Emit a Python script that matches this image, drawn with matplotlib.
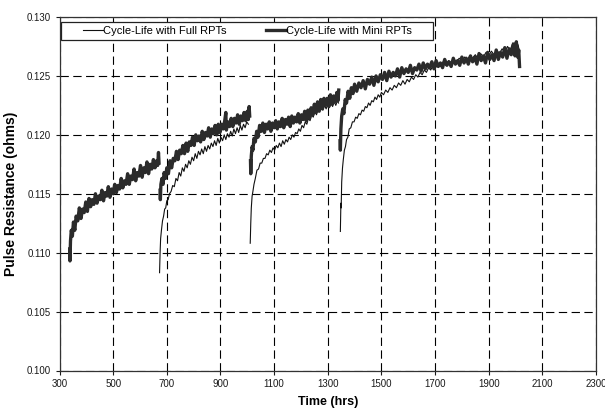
import numpy as np
import matplotlib
matplotlib.use("Agg")
import matplotlib.pyplot as plt
from matplotlib.patches import Rectangle

plt.rcParams["font.family"] = ["Liberation Sans", "DejaVu Sans"]
INK = "#1a1a1a"
LINE = "#2b2b2b"

# Cycle-Life with Mini RPTs (thick), four segments between RPTs
mini_t1 = [338, 339, 341, 344, 348, 352, 357, 362, 368, 374, 380, 386, 392, 398, 404,
           410, 416, 422, 428, 434, 440, 446, 452, 458, 464, 470, 476, 482, 488, 494,
           500, 506, 512, 518, 524, 530, 536, 542, 548, 554, 560, 566, 572, 578, 584,
           590, 596, 602, 608, 614, 620, 626, 632, 638, 644, 650, 656, 662, 666, 669, 671]
mini_r1 = [0.1103, 0.1093, 0.1110, 0.1119, 0.1114, 0.1126, 0.1119, 0.1131, 0.1127, 0.1138,
           0.1129, 0.1137, 0.1134, 0.1143, 0.1135, 0.1146, 0.1139, 0.1145, 0.1141, 0.1150,
           0.1142, 0.1148, 0.1145, 0.1153, 0.1144, 0.1151, 0.1148, 0.1156, 0.1147, 0.1154,
           0.1150, 0.1158, 0.1151, 0.1157, 0.1154, 0.1163, 0.1155, 0.1161, 0.1158, 0.1167,
           0.1158, 0.1165, 0.1162, 0.1171, 0.1161, 0.1168, 0.1165, 0.1174, 0.1164, 0.1172,
           0.1168, 0.1177, 0.1167, 0.1175, 0.1171, 0.1179, 0.1172, 0.1178, 0.1174, 0.1185,
           0.1176]

mini_t2 = [675, 676, 678, 682, 686, 690, 695, 700, 706, 712, 718, 724, 730, 736, 742,
           748, 754, 760, 766, 772, 778, 784, 790, 796, 802, 808, 814, 820, 826, 832,
           838, 844, 850, 856, 862, 868, 874, 880, 886, 892, 898, 904, 910, 916, 920,
           922, 928, 934, 940, 946, 952, 958, 964, 970, 976, 982, 988, 994, 1000, 1004,
           1007, 1009]
mini_r2 = [0.1153, 0.1145, 0.1158, 0.1163, 0.1158, 0.1168, 0.1163, 0.1172, 0.1167, 0.1178,
           0.1172, 0.1180, 0.1178, 0.1186, 0.1179, 0.1187, 0.1184, 0.1191, 0.1184, 0.1193,
           0.1186, 0.1194, 0.1191, 0.1198, 0.1191, 0.1200, 0.1195, 0.1199, 0.1194, 0.1203,
           0.1196, 0.1202, 0.1199, 0.1206, 0.1198, 0.1205, 0.1201, 0.1208, 0.1200, 0.1209,
           0.1202, 0.1209, 0.1205, 0.1212, 0.1219, 0.1204, 0.1211, 0.1207, 0.1214, 0.1207,
           0.1214, 0.1210, 0.1217, 0.1209, 0.1216, 0.1212, 0.1219, 0.1212, 0.1220, 0.1213,
           0.1224, 0.1216]

mini_t3 = [1012, 1013, 1015, 1018, 1021, 1025, 1030, 1035, 1040, 1046, 1052, 1058, 1064,
           1070, 1076, 1082, 1088, 1094, 1100, 1106, 1112, 1118, 1124, 1130, 1136, 1142,
           1148, 1154, 1160, 1166, 1172, 1178, 1184, 1190, 1196, 1202, 1208, 1214, 1220,
           1226, 1232, 1238, 1244, 1250, 1256, 1262, 1268, 1274, 1280, 1286, 1292, 1298,
           1304, 1310, 1316, 1322, 1328, 1334, 1338, 1341]
mini_r3 = [0.1178, 0.1167, 0.1182, 0.1190, 0.1187, 0.1197, 0.1194, 0.1203, 0.1198, 0.1208,
           0.1203, 0.1210, 0.1202, 0.1209, 0.1205, 0.1211, 0.1203, 0.1210, 0.1206, 0.1212,
           0.1205, 0.1211, 0.1207, 0.1214, 0.1206, 0.1213, 0.1209, 0.1215, 0.1207, 0.1216,
           0.1210, 0.1215, 0.1211, 0.1218, 0.1210, 0.1217, 0.1213, 0.1220, 0.1212, 0.1221,
           0.1214, 0.1223, 0.1217, 0.1226, 0.1219, 0.1228, 0.1220, 0.1230, 0.1222, 0.1231,
           0.1225, 0.1231, 0.1224, 0.1234, 0.1226, 0.1233, 0.1228, 0.1236, 0.1229, 0.1238]

mini_t4 = [1346, 1347, 1349, 1352, 1356, 1360, 1365, 1370, 1376, 1382, 1388, 1394, 1400,
           1408, 1416, 1424, 1432, 1440, 1448, 1456, 1464, 1472, 1480, 1488, 1496, 1504,
           1512, 1520, 1528, 1536, 1544, 1552, 1560, 1568, 1576, 1584, 1592, 1600, 1608,
           1616, 1624, 1632, 1640, 1648, 1656, 1664, 1672, 1680, 1688, 1696, 1704, 1712,
           1720, 1728, 1736, 1744, 1752, 1760, 1768, 1776, 1784, 1792, 1800, 1808, 1816,
           1824, 1832, 1840, 1848, 1856, 1864, 1872, 1880, 1888, 1896, 1904, 1912, 1920,
           1928, 1936, 1944, 1952, 1960, 1968, 1976, 1984, 1992, 1998, 2003, 2008, 2012, 2015]
mini_r4 = [0.1195, 0.1187, 0.1205, 0.1216, 0.1222, 0.1218, 0.1230, 0.1227, 0.1237, 0.1231,
           0.1240, 0.1235, 0.1243, 0.1237, 0.1244, 0.1240, 0.1246, 0.1239, 0.1247, 0.1243,
           0.1249, 0.1242, 0.1250, 0.1245, 0.1251, 0.1247, 0.1253, 0.1246, 0.1254, 0.1249,
           0.1253, 0.1250, 0.1256, 0.1249, 0.1257, 0.1252, 0.1256, 0.1253, 0.1259, 0.1252,
           0.1257, 0.1255, 0.1260, 0.1254, 0.1261, 0.1256, 0.1260, 0.1257, 0.1262, 0.1256,
           0.1263, 0.1258, 0.1261, 0.1257, 0.1264, 0.1259, 0.1262, 0.1258, 0.1265, 0.1260,
           0.1263, 0.1259, 0.1266, 0.1261, 0.1265, 0.1260, 0.1267, 0.1262, 0.1266, 0.1260,
           0.1269, 0.1263, 0.1267, 0.1261, 0.1270, 0.1264, 0.1268, 0.1263, 0.1272, 0.1264,
           0.1270, 0.1266, 0.1274, 0.1265, 0.1273, 0.1268, 0.1277, 0.1267, 0.1279, 0.1266,
           0.1272, 0.1258]

# Cycle-Life with Full RPTs (thin)
full_t1 = [338, 345, 360, 380, 400, 420, 440, 460, 480, 500, 520, 540, 560, 580, 600,
           620, 640, 660, 668]
full_r1 = [0.1098, 0.1117, 0.1126, 0.1134, 0.1138, 0.1141, 0.1144, 0.1147, 0.1150, 0.1152,
           0.1155, 0.1159, 0.1162, 0.1165, 0.1168, 0.1171, 0.1173, 0.1176, 0.1177]

full_t2 = [673, 675, 677, 680, 684, 688, 692, 696, 700, 705, 710, 716, 722, 728, 734,
           740, 746, 752, 758, 764, 770, 776, 782, 788, 794, 800, 806, 812, 818, 824,
           830, 836, 842, 848, 854, 860, 866, 872, 878, 884, 890, 896, 902, 908, 914,
           920, 926, 932, 938, 944, 950, 956, 962, 968, 974, 980, 986, 992, 998, 1004]
full_r2 = [0.1083, 0.1100, 0.1112, 0.1119, 0.1127, 0.1131, 0.1137, 0.1138, 0.1144, 0.1145,
           0.1150, 0.1152, 0.1157, 0.1156, 0.1163, 0.1161, 0.1168, 0.1165, 0.1172, 0.1169,
           0.1175, 0.1172, 0.1178, 0.1175, 0.1181, 0.1178, 0.1184, 0.1180, 0.1186, 0.1183,
           0.1188, 0.1184, 0.1190, 0.1186, 0.1191, 0.1188, 0.1193, 0.1190, 0.1195, 0.1191,
           0.1197, 0.1193, 0.1198, 0.1195, 0.1200, 0.1196, 0.1201, 0.1198, 0.1203, 0.1199,
           0.1205, 0.1201, 0.1206, 0.1202, 0.1208, 0.1204, 0.1209, 0.1206, 0.1211, 0.1209]

full_t3 = [1011, 1013, 1015, 1018, 1021, 1025, 1030, 1036, 1042, 1048, 1054, 1060, 1066,
           1072, 1078, 1084, 1090, 1096, 1102, 1108, 1114, 1120, 1126, 1132, 1138, 1144,
           1150, 1156, 1162, 1168, 1174, 1180, 1186, 1192, 1198, 1204, 1210, 1216, 1222,
           1228, 1234, 1240, 1246, 1252, 1258, 1264, 1270, 1276, 1282, 1288, 1294, 1300,
           1306, 1312, 1318, 1324, 1330, 1336, 1340]
full_r3 = [0.1108, 0.1125, 0.1138, 0.1148, 0.1152, 0.1158, 0.1163, 0.1170, 0.1171, 0.1176,
           0.1176, 0.1180, 0.1180, 0.1184, 0.1183, 0.1187, 0.1185, 0.1189, 0.1187, 0.1191,
           0.1189, 0.1193, 0.1190, 0.1195, 0.1192, 0.1196, 0.1194, 0.1198, 0.1196, 0.1200,
           0.1198, 0.1202, 0.1201, 0.1205, 0.1203, 0.1208, 0.1206, 0.1211, 0.1209, 0.1214,
           0.1212, 0.1217, 0.1215, 0.1220, 0.1217, 0.1222, 0.1220, 0.1224, 0.1221, 0.1225,
           0.1222, 0.1226, 0.1223, 0.1227, 0.1224, 0.1228, 0.1225, 0.1229, 0.1227]

full_t4 = [1347, 1348, 1349, 1350, 1352, 1355, 1358, 1362, 1366, 1370, 1375, 1380, 1386,
           1392, 1398, 1404, 1410, 1416, 1422, 1428, 1434, 1440, 1446, 1452, 1458, 1464,
           1470, 1476, 1482, 1488, 1494, 1500, 1508, 1516, 1524, 1532, 1540, 1548, 1556,
           1564, 1572, 1580, 1588, 1596, 1604, 1612, 1620, 1628, 1636, 1644, 1652, 1660,
           1668, 1676, 1684, 1692, 1700, 1710, 1720, 1730, 1740, 1750, 1760, 1770, 1780,
           1790, 1800, 1810, 1820, 1830, 1840, 1850, 1860, 1870, 1880, 1890, 1900, 1910,
           1920, 1930, 1940, 1950, 1960, 1970, 1980, 1990, 1998, 2004, 2010, 2015]
full_r4 = [0.1118, 0.1128, 0.1142, 0.1138, 0.1160, 0.1172, 0.1179, 0.1187, 0.1190, 0.1196,
           0.1198, 0.1205, 0.1206, 0.1211, 0.1211, 0.1215, 0.1214, 0.1218, 0.1217, 0.1221,
           0.1220, 0.1224, 0.1223, 0.1227, 0.1225, 0.1229, 0.1228, 0.1232, 0.1230, 0.1234,
           0.1232, 0.1236, 0.1234, 0.1238, 0.1236, 0.1240, 0.1238, 0.1242, 0.1240, 0.1244,
           0.1242, 0.1246, 0.1243, 0.1247, 0.1245, 0.1249, 0.1247, 0.1251, 0.1249, 0.1253,
           0.1251, 0.1255, 0.1253, 0.1257, 0.1255, 0.1259, 0.1256, 0.1260, 0.1258, 0.1262,
           0.1259, 0.1263, 0.1261, 0.1264, 0.1262, 0.1265, 0.1263, 0.1266, 0.1264, 0.1267,
           0.1265, 0.1268, 0.1265, 0.1269, 0.1266, 0.1270, 0.1267, 0.1271, 0.1268, 0.1272,
           0.1269, 0.1273, 0.1270, 0.1275, 0.1272, 0.1278, 0.1274, 0.1279, 0.1276, 0.1270]

x_ticks = [300, 500, 700, 900, 1100, 1300, 1500, 1700, 1900, 2100, 2300]
y_ticks = [0.100, 0.105, 0.110, 0.115, 0.120, 0.125, 0.130]


def join(ts, rs):
    # NaN between segments so the RPT gaps are not connected
    t_out, r_out = [], []
    for t, r in zip(ts, rs):
        t_out += list(t) + [np.nan]
        r_out += list(r) + [np.nan]
    return t_out, r_out


full_t, full_r = join([full_t1, full_t2, full_t3, full_t4], [full_r1, full_r2, full_r3, full_r4])
mini_t, mini_r = join([mini_t1, mini_t2, mini_t3, mini_t4], [mini_r1, mini_r2, mini_r3, mini_r4])

fig = plt.figure(figsize=(6.05, 4.09), dpi=100)
ax = fig.add_axes([59.5 / 605, 1 - 370.5 / 409, 536.5 / 605, 353.5 / 409])

ax.plot(full_t, full_r, color="#111111", lw=0.8, label="Cycle-Life with Full RPTs", zorder=3)
ax.plot(mini_t, mini_r, color=LINE, lw=2.4, label="Cycle-Life with Mini RPTs", zorder=4)

ax.set_xlim(300, 2300)
ax.set_ylim(0.100, 0.130)
ax.set_xticks(x_ticks)
ax.set_yticks(y_ticks)
ax.set_yticklabels([f"{v:.3f}" for v in y_ticks])
ax.tick_params(direction="out", length=3, width=0.8, labelsize=7, colors=INK, pad=3)
ax.grid(True, color="black", lw=0.8, ls=(0, (7.5, 4)))
for sp in ax.spines.values():
    sp.set_linewidth(0.9)
    sp.set_color("#333333")

ax.set_xlabel("Time (hrs)", fontsize=9, fontweight="bold", labelpad=5)
ax.set_ylabel("Pulse Resistance (ohms)", fontsize=10, fontweight="bold")
ax.yaxis.set_label_coords(-0.077, 0.5)

# legend box in the Excel style: a plain frame across the top, entries inside it
ax.add_patch(Rectangle((0.0028, 0.9349), 0.6934, 0.0509, transform=ax.transAxes,
                       facecolor="white", edgecolor="#222222", lw=0.9, zorder=9))
leg = ax.legend(loc="center left", bbox_to_anchor=(0.0438, 0.9604), ncol=2, fontsize=8,
                frameon=False, handlelength=1.8, handletextpad=0.0,
                columnspacing=3.6, borderpad=0.0, borderaxespad=0.0)
leg.set_zorder(10)

fig.savefig("out.png", dpi=100)
